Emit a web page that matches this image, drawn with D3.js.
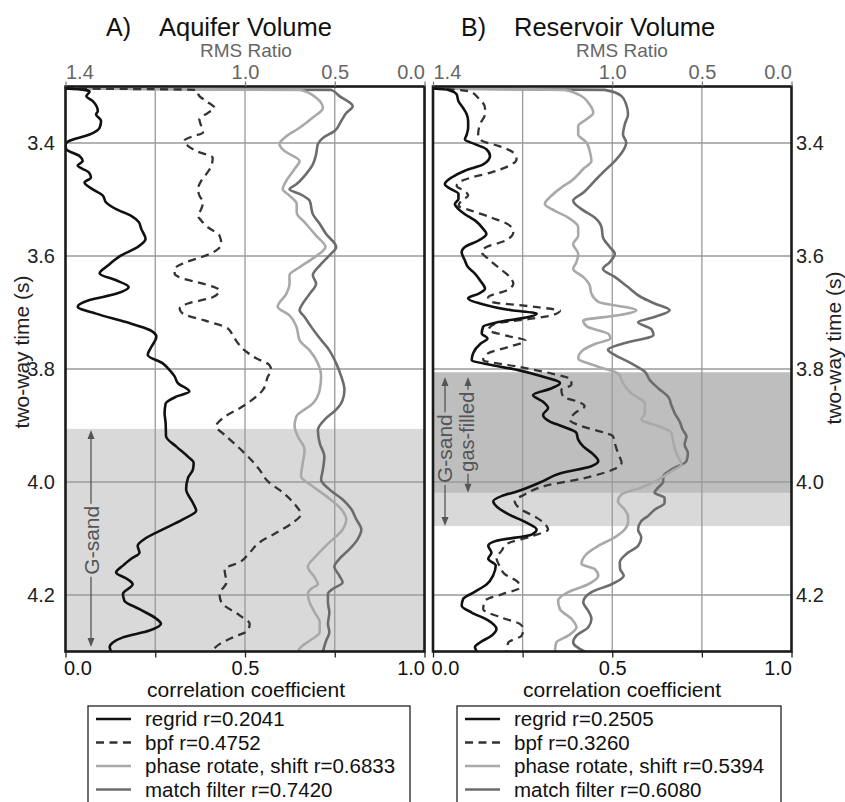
<!DOCTYPE html>
<html lang="en">
<head>
<meta charset="utf-8">
<title>Aquifer / Reservoir Volume</title>
<script src="https://d3js.org/d3.v7.min.js"></script>
<style>
  body { margin: 0; background: #fff; }
</style>
</head>
<body>
<svg id="chart" width="845" height="802"></svg>
<script>
// [two-way time (s), correlation coefficient]
var regridA = [[3.3035,0],[3.306,0.053],[3.309,0.067],[3.317,0.058],[3.326,0.076],[3.344,0.090],[3.349,0.085],[3.361,0.099],[3.373,0.095],[3.385,0.067],[3.396,0.011],[3.402,0.0],[3.411,0.002],[3.423,0.039],[3.432,0.048],[3.440,0.034],[3.452,0.065],[3.461,0.071],[3.470,0.053],[3.482,0.076],[3.493,0.104],[3.505,0.113],[3.517,0.141],[3.529,0.183],[3.540,0.204],[3.552,0.211],[3.570,0.223],[3.584,0.201],[3.599,0.155],[3.617,0.118],[3.631,0.095],[3.643,0.141],[3.655,0.176],[3.667,0.141],[3.678,0.067],[3.690,0.034],[3.702,0.085],[3.717,0.169],[3.731,0.235],[3.743,0.253],[3.761,0.239],[3.775,0.229],[3.790,0.271],[3.802,0.290],[3.813,0.304],[3.825,0.313],[3.840,0.345],[3.849,0.308],[3.861,0.279],[3.878,0.276],[3.896,0.279],[3.919,0.280],[3.937,0.308],[3.955,0.341],[3.966,0.357],[3.978,0.355],[3.993,0.341],[4.013,0.336],[4.037,0.355],[4.051,0.364],[4.066,0.327],[4.084,0.271],[4.101,0.220],[4.113,0.201],[4.125,0.206],[4.136,0.183],[4.148,0.160],[4.160,0.141],[4.172,0.173],[4.181,0.187],[4.198,0.160],[4.210,0.164],[4.225,0.206],[4.242,0.253],[4.251,0.266],[4.263,0.234],[4.275,0.160],[4.284,0.132],[4.292,0.123],[4.300,0.127]];
var bpfA = [[3.3035,0],[3.306,0.364],[3.317,0.373],[3.326,0.392],[3.338,0.415],[3.347,0.396],[3.358,0.373],[3.370,0.378],[3.382,0.383],[3.388,0.355],[3.396,0.331],[3.405,0.341],[3.414,0.364],[3.426,0.410],[3.441,0.406],[3.455,0.392],[3.467,0.378],[3.482,0.369],[3.493,0.373],[3.505,0.383],[3.517,0.378],[3.529,0.369],[3.537,0.378],[3.549,0.396],[3.564,0.429],[3.579,0.434],[3.590,0.420],[3.599,0.392],[3.611,0.336],[3.623,0.304],[3.631,0.304],[3.640,0.327],[3.649,0.383],[3.661,0.429],[3.673,0.410],[3.684,0.341],[3.693,0.318],[3.702,0.327],[3.714,0.387],[3.728,0.452],[3.743,0.468],[3.767,0.499],[3.781,0.531],[3.793,0.568],[3.802,0.573],[3.813,0.564],[3.837,0.550],[3.849,0.531],[3.866,0.494],[3.887,0.438],[3.901,0.420],[3.919,0.448],[3.943,0.489],[3.964,0.522],[3.978,0.540],[3.999,0.564],[4.019,0.606],[4.043,0.643],[4.057,0.656],[4.072,0.633],[4.090,0.587],[4.107,0.540],[4.125,0.513],[4.142,0.485],[4.154,0.443],[4.178,0.448],[4.198,0.429],[4.213,0.434],[4.236,0.485],[4.251,0.513],[4.263,0.508],[4.275,0.466],[4.287,0.429],[4.300,0.406]];
var phaseA = [[3.3035,0],[3.306,0.656],[3.320,0.698],[3.338,0.717],[3.355,0.689],[3.373,0.652],[3.388,0.615],[3.402,0.596],[3.414,0.610],[3.432,0.652],[3.446,0.638],[3.467,0.615],[3.482,0.605],[3.493,0.624],[3.508,0.644],[3.523,0.644],[3.543,0.670],[3.564,0.698],[3.584,0.724],[3.602,0.694],[3.620,0.652],[3.634,0.624],[3.649,0.624],[3.667,0.615],[3.690,0.591],[3.705,0.624],[3.725,0.643],[3.749,0.652],[3.767,0.680],[3.790,0.703],[3.813,0.712],[3.837,0.708],[3.861,0.689],[3.884,0.643],[3.901,0.638],[3.919,0.647],[3.943,0.666],[3.966,0.661],[3.990,0.656],[4.008,0.689],[4.025,0.726],[4.048,0.768],[4.066,0.782],[4.084,0.772],[4.107,0.735],[4.131,0.698],[4.150,0.675],[4.169,0.694],[4.181,0.703],[4.189,0.684],[4.198,0.675],[4.213,0.680],[4.231,0.694],[4.248,0.708],[4.266,0.708],[4.281,0.680],[4.292,0.656],[4.300,0.647]];
var matchA = [[3.3035,0],[3.306,0.740],[3.317,0.763],[3.335,0.800],[3.347,0.782],[3.361,0.768],[3.379,0.749],[3.391,0.717],[3.402,0.703],[3.420,0.698],[3.438,0.689],[3.455,0.670],[3.473,0.643],[3.482,0.624],[3.490,0.652],[3.502,0.680],[3.526,0.689],[3.543,0.708],[3.561,0.726],[3.584,0.754],[3.599,0.735],[3.617,0.708],[3.634,0.689],[3.649,0.698],[3.667,0.680],[3.684,0.661],[3.696,0.652],[3.708,0.666],[3.725,0.684],[3.743,0.705],[3.767,0.735],[3.790,0.754],[3.813,0.768],[3.837,0.777],[3.855,0.772],[3.872,0.754],[3.887,0.726],[3.908,0.703],[3.931,0.708],[3.955,0.721],[3.978,0.717],[3.996,0.712],[4.013,0.735],[4.031,0.772],[4.048,0.796],[4.066,0.810],[4.084,0.824],[4.101,0.814],[4.119,0.791],[4.136,0.763],[4.150,0.749],[4.166,0.763],[4.178,0.772],[4.189,0.745],[4.198,0.731],[4.213,0.731],[4.231,0.735],[4.251,0.731],[4.266,0.735],[4.281,0.726],[4.300,0.717]];

var regridB = [[3.3035,0],[3.306,0.043],[3.314,0.066],[3.326,0.071],[3.338,0.084],[3.349,0.094],[3.361,0.098],[3.373,0.098],[3.385,0.094],[3.394,0.089],[3.402,0.117],[3.411,0.149],[3.423,0.159],[3.438,0.140],[3.449,0.089],[3.461,0.052],[3.473,0.033],[3.479,0.043],[3.490,0.071],[3.499,0.071],[3.508,0.061],[3.517,0.071],[3.526,0.089],[3.537,0.117],[3.552,0.140],[3.561,0.149],[3.573,0.126],[3.584,0.089],[3.593,0.080],[3.608,0.089],[3.620,0.098],[3.631,0.117],[3.643,0.131],[3.658,0.145],[3.667,0.126],[3.675,0.098],[3.684,0.131],[3.696,0.219],[3.702,0.289],[3.708,0.266],[3.717,0.182],[3.725,0.140],[3.737,0.136],[3.746,0.152],[3.755,0.133],[3.772,0.112],[3.784,0.108],[3.793,0.163],[3.802,0.238],[3.813,0.303],[3.825,0.354],[3.834,0.331],[3.846,0.279],[3.858,0.307],[3.869,0.321],[3.881,0.307],[3.893,0.326],[3.901,0.358],[3.913,0.400],[3.925,0.405],[3.937,0.419],[3.951,0.447],[3.963,0.461],[3.972,0.442],[3.984,0.358],[4.001,0.298],[4.016,0.238],[4.025,0.191],[4.034,0.168],[4.043,0.177],[4.057,0.210],[4.072,0.261],[4.084,0.289],[4.093,0.275],[4.104,0.177],[4.113,0.154],[4.125,0.163],[4.136,0.154],[4.148,0.175],[4.165,0.168],[4.181,0.150],[4.195,0.115],[4.207,0.084],[4.219,0.080],[4.231,0.108],[4.245,0.154],[4.260,0.177],[4.272,0.163],[4.284,0.131],[4.292,0.117],[4.300,0.122]];
var bpfB = [[3.3035,0],[3.306,0.071],[3.309,0.103],[3.320,0.126],[3.338,0.145],[3.349,0.145],[3.367,0.131],[3.385,0.126],[3.396,0.136],[3.405,0.182],[3.417,0.224],[3.429,0.233],[3.441,0.210],[3.452,0.163],[3.461,0.108],[3.470,0.071],[3.476,0.066],[3.485,0.089],[3.493,0.098],[3.502,0.080],[3.511,0.071],[3.520,0.108],[3.532,0.163],[3.546,0.214],[3.558,0.224],[3.573,0.201],[3.584,0.149],[3.593,0.136],[3.605,0.154],[3.620,0.182],[3.637,0.214],[3.649,0.224],[3.661,0.205],[3.673,0.154],[3.681,0.163],[3.690,0.284],[3.697,0.354],[3.705,0.331],[3.711,0.275],[3.720,0.173],[3.731,0.155],[3.741,0.205],[3.750,0.258],[3.761,0.210],[3.772,0.154],[3.784,0.140],[3.796,0.238],[3.808,0.331],[3.819,0.386],[3.828,0.386],[3.837,0.358],[3.849,0.363],[3.858,0.405],[3.866,0.423],[3.878,0.396],[3.890,0.382],[3.901,0.414],[3.913,0.479],[3.919,0.502],[3.931,0.507],[3.949,0.516],[3.966,0.526],[3.978,0.502],[3.993,0.423],[4.007,0.312],[4.022,0.256],[4.034,0.228],[4.049,0.247],[4.063,0.289],[4.078,0.317],[4.084,0.321],[4.096,0.275],[4.110,0.205],[4.122,0.191],[4.134,0.177],[4.148,0.185],[4.163,0.200],[4.178,0.238],[4.187,0.242],[4.198,0.195],[4.210,0.145],[4.225,0.140],[4.240,0.191],[4.251,0.242],[4.260,0.252],[4.272,0.247],[4.284,0.210],[4.300,0.205]];
var phaseB = [[3.3035,0],[3.306,0.368],[3.314,0.405],[3.332,0.437],[3.347,0.447],[3.358,0.428],[3.370,0.405],[3.385,0.405],[3.399,0.428],[3.414,0.437],[3.432,0.442],[3.446,0.419],[3.467,0.386],[3.479,0.358],[3.493,0.331],[3.508,0.312],[3.520,0.340],[3.532,0.377],[3.549,0.405],[3.564,0.405],[3.579,0.391],[3.596,0.405],[3.611,0.400],[3.623,0.391],[3.637,0.419],[3.652,0.437],[3.667,0.442],[3.681,0.461],[3.696,0.567],[3.705,0.516],[3.714,0.419],[3.725,0.430],[3.738,0.490],[3.746,0.495],[3.755,0.455],[3.767,0.418],[3.781,0.405],[3.796,0.461],[3.808,0.516],[3.825,0.530],[3.843,0.553],[3.861,0.591],[3.878,0.591],[3.890,0.581],[3.901,0.628],[3.913,0.665],[3.925,0.669],[3.940,0.674],[3.955,0.683],[3.969,0.693],[3.981,0.665],[3.996,0.628],[4.010,0.581],[4.022,0.526],[4.034,0.516],[4.049,0.535],[4.060,0.544],[4.072,0.544],[4.084,0.535],[4.098,0.507],[4.113,0.461],[4.131,0.423],[4.145,0.414],[4.154,0.451],[4.166,0.461],[4.181,0.433],[4.195,0.377],[4.210,0.349],[4.225,0.354],[4.242,0.386],[4.257,0.400],[4.272,0.377],[4.284,0.344],[4.300,0.340]];
var matchB = [[3.3035,0],[3.306,0.479],[3.317,0.526],[3.332,0.539],[3.349,0.544],[3.367,0.535],[3.385,0.530],[3.399,0.539],[3.414,0.530],[3.432,0.507],[3.449,0.479],[3.467,0.451],[3.488,0.419],[3.502,0.391],[3.517,0.414],[3.532,0.451],[3.549,0.470],[3.567,0.474],[3.584,0.493],[3.596,0.507],[3.611,0.493],[3.623,0.474],[3.637,0.507],[3.655,0.544],[3.673,0.581],[3.684,0.618],[3.696,0.660],[3.708,0.618],[3.717,0.572],[3.730,0.610],[3.740,0.615],[3.755,0.530],[3.766,0.488],[3.775,0.507],[3.790,0.553],[3.805,0.591],[3.819,0.604],[3.834,0.628],[3.849,0.656],[3.864,0.665],[3.878,0.674],[3.893,0.688],[3.908,0.697],[3.919,0.707],[3.934,0.702],[3.949,0.711],[3.963,0.707],[3.978,0.665],[3.990,0.642],[3.999,0.642],[4.010,0.628],[4.019,0.618],[4.028,0.646],[4.037,0.646],[4.049,0.618],[4.060,0.600],[4.069,0.581],[4.084,0.572],[4.098,0.581],[4.113,0.572],[4.125,0.544],[4.142,0.521],[4.154,0.522],[4.166,0.532],[4.181,0.498],[4.195,0.442],[4.213,0.419],[4.228,0.433],[4.242,0.442],[4.257,0.433],[4.272,0.400],[4.284,0.391],[4.300,0.423]];

var timeTicks = [3.4, 3.6, 3.8, 4.0, 4.2];
var corrTicks = [0, 0.25, 0.5, 0.75, 1.0];
var rmsTicks = [1.4, 1.0, 0.5, 0.0];
var legendA = ["regrid r=0.2041", "bpf r=0.4752", "phase rotate, shift r=0.6833", "match filter r=0.7420"];
var legendB = ["regrid r=0.2505", "bpf r=0.3260", "phase rotate, shift r=0.5394", "match filter r=0.6080"];
// shaded intervals (s)
var gSandA = [3.906, 4.30];
var gSandB = [3.806, 4.078];
var gasB = [3.806, 4.019];

var FONT = '"Liberation Sans", Arial, Helvetica, sans-serif';
var svg = d3.select("#chart").attr("font-family", FONT);
svg.append("rect").attr("width", 845).attr("height", 802).attr("fill", "#fff");

var y = d3.scaleLinear().domain([3.3, 4.3]).range([86.5, 651.5]);

// drawing order: regrid ends on top
var styles = {
  regrid: {color: "#111", width: 2.6, dash: null},
  bpf:    {color: "#333", width: 2.3, dash: "8,5.5"},
  phase:  {color: "#a9a9a9", width: 2.6, dash: null},
  match:  {color: "#6c6c6c", width: 2.6, dash: null}
};
var drawOrder = ["match", "phase", "bpf", "regrid"];
var legendOrder = ["regrid", "bpf", "phase", "match"];

function annot(g, xp, span, label, tMid, fs, textX) {
  var t = g.append("text")
    .attr("transform", "translate(" + textX + "," + y(tMid) + ") rotate(-90)")
    .attr("text-anchor", "middle").attr("font-size", fs).attr("fill", "#555")
    .text(label);
  var half = t.node().getComputedTextLength() / 2 + 2;
  var yTop = y(span[0]), yBot = y(span[1]), ym = y(tMid);
  g.append("line").attr("x1", xp).attr("x2", xp).attr("y1", yTop + 6).attr("y2", ym - half)
    .attr("stroke", "#555").attr("stroke-width", 1.3);
  g.append("line").attr("x1", xp).attr("x2", xp).attr("y1", ym + half).attr("y2", yBot - 6)
    .attr("stroke", "#555").attr("stroke-width", 1.3);
  g.append("path").attr("d", "M" + xp + "," + yTop + "l-3.5,9l7,0z").attr("fill", "#555");
  g.append("path").attr("d", "M" + xp + "," + yBot + "l-3.5,-9l7,0z").attr("fill", "#555");
}

function panel(p) {
  var x = d3.scaleLinear().domain([0, 1]).range([p.x0, p.x1]);
  var rms = d3.scaleLinear().domain([1.4, 1.0, 0.0]).range([p.x0, x(0.5), p.x1]);
  var g = svg.append("g");

  svg.append("clipPath").attr("id", "clip" + p.id).append("rect")
    .attr("x", p.x0).attr("y", y(3.3)).attr("width", p.x1 - p.x0).attr("height", y(4.3) - y(3.3));

  p.shades.forEach(function (s) {
    g.append("rect").attr("x", p.x0).attr("width", p.x1 - p.x0)
      .attr("y", y(s.span[0])).attr("height", y(s.span[1]) - y(s.span[0]))
      .attr("fill", s.fill);
  });

  g.selectAll(".vgrid").data([0.25, 0.5, 0.75]).enter().append("line")
    .attr("x1", function (d) { return x(d); }).attr("x2", function (d) { return x(d); })
    .attr("y1", y(3.3)).attr("y2", y(4.3))
    .attr("stroke", "#9a9a9a").attr("stroke-width", 1.3);
  g.selectAll(".hgrid").data(timeTicks).enter().append("line")
    .attr("x1", p.x0).attr("x2", p.x1)
    .attr("y1", function (d) { return y(d); }).attr("y2", function (d) { return y(d); })
    .attr("stroke", "#9a9a9a").attr("stroke-width", 1.3);

  if (p.annot) p.annot(g);

  var line = d3.line()
    .x(function (d) { return x(d[1]); })
    .y(function (d) { return y(d[0]); })
    .curve(d3.curveMonotoneY);
  var cg = g.append("g").attr("clip-path", "url(#clip" + p.id + ")");
  drawOrder.forEach(function (k) {
    var s = styles[k];
    cg.append("path").datum(p.series[k]).attr("d", line)
      .attr("fill", "none").attr("stroke", s.color).attr("stroke-width", s.width)
      .attr("stroke-dasharray", s.dash).attr("stroke-linejoin", "round");
  });

  g.append("rect").attr("x", p.x0).attr("y", y(3.3))
    .attr("width", p.x1 - p.x0).attr("height", y(4.3) - y(3.3))
    .attr("fill", "none").attr("stroke", "#1a1a1a").attr("stroke-width", 2.6);

  // bottom axis: correlation coefficient
  var bax = g.append("g").attr("transform", "translate(0," + y(4.3) + ")")
    .call(d3.axisBottom(x).tickValues(corrTicks).tickSize(6).tickPadding(3.5)
      .tickFormat(function (d) { return (d === 0.25 || d === 0.75) ? "" : d3.format(".1f")(d); }));
  bax.attr("font-family", FONT).attr("font-size", 20);
  bax.select(".domain").remove();
  bax.selectAll("line").attr("stroke", "#222").attr("stroke-width", 1.3);
  bax.selectAll("text").attr("fill", "#111")
    .attr("text-anchor", function (d, i) { return i === 0 ? "start" : (i === corrTicks.length - 1 ? "end" : "middle"); })
    .attr("dx", function (d, i) { return i === 0 ? -2 : 0; });

  // top axis: RMS ratio
  var tax = g.append("g").attr("transform", "translate(0," + y(3.3) + ")")
    .call(d3.axisTop(rms).tickValues(rmsTicks).tickSize(5).tickPadding(3).tickFormat(d3.format(".1f")));
  tax.attr("font-family", FONT).attr("font-size", 20);
  tax.select(".domain").remove();
  tax.selectAll("line").attr("stroke", "#777").attr("stroke-width", 1.2);
  tax.selectAll("text").attr("fill", "#666")
    .attr("text-anchor", function (d, i) { return i === 0 ? "start" : (i === rmsTicks.length - 1 ? "end" : "middle"); });

  // time axis
  var yax = g.append("g")
    .attr("transform", "translate(" + (p.side === "left" ? p.x0 : p.x1) + ",0)")
    .call((p.side === "left" ? d3.axisLeft(y) : d3.axisRight(y))
      .tickValues(timeTicks).tickSize(0).tickPadding(p.side === "left" ? 10.5 : 4.5)
      .tickFormat(d3.format(".1f")));
  yax.attr("font-family", FONT).attr("font-size", 20);
  yax.select(".domain").remove();
  yax.selectAll("text").attr("fill", "#222");

  svg.append("text").attr("transform", "translate(" + p.ytitleX + "," + p.ytitleY + ") rotate(-90)")
    .attr("text-anchor", "middle").attr("font-size", 21).attr("fill", "#222")
    .text("two-way time (s)");

  svg.append("text").attr("x", p.labelX).attr("y", 57).attr("text-anchor", "middle")
    .attr("font-size", 19).attr("fill", "#666").text("RMS Ratio");
  svg.append("text").attr("x", p.labelX).attr("y", 697).attr("text-anchor", "middle")
    .attr("font-size", 21).attr("fill", "#111").text("correlation coefficient");

  svg.append("text").attr("x", p.letterX).attr("y", 36).attr("font-size", 25)
    .attr("fill", "#111").text(p.letter);
  svg.append("text").attr("x", p.titleX).attr("y", 36).attr("font-size", 25.5)
    .attr("fill", "#111").text(p.title);

  // legend
  var lg = svg.append("g");
  lg.append("rect").attr("x", p.legX).attr("y", 706).attr("width", p.legW).attr("height", 110)
    .attr("fill", "#fff").attr("stroke", "#222").attr("stroke-width", 1.3);
  legendOrder.forEach(function (k, i) {
    var s = styles[k], yy = 719 + i * 23.5;
    lg.append("line").attr("x1", p.legX + 8).attr("x2", p.legX + 43).attr("y1", yy).attr("y2", yy)
      .attr("stroke", s.color).attr("stroke-width", s.width).attr("stroke-dasharray", s.dash);
    lg.append("text").attr("x", p.legX + 57).attr("y", yy).attr("dy", "0.35em")
      .attr("font-size", 20.5).attr("fill", "#111").text(p.legend[i]);
  });

  return x;
}

panel({
  id: "A", x0: 65.5, x1: 424.5, side: "left",
  series: {regrid: regridA, bpf: bpfA, phase: phaseA, match: matchA},
  shades: [{span: gSandA, fill: "#d9d9d9"}],
  annot: function (g) { annot(g, 91, [3.908, 4.292], "G-sand", 4.103, 21, 98.5); },
  ytitleX: 29, ytitleY: 352, labelX: 246, letter: "A)", letterX: 106,
  title: "Aquifer Volume", titleX: 159, legX: 88, legW: 322, legend: legendA
});
panel({
  id: "B", x0: 433, x1: 791.5, side: "right",
  series: {regrid: regridB, bpf: bpfB, phase: phaseB, match: matchB},
  shades: [{span: gSandB, fill: "#d9d9d9"}, {span: gasB, fill: "#bebebe"}],
  annot: function (g) {
    annot(g, 445, [3.814, 4.078], "G-sand", 3.941, 21, 452);
    annot(g, 468, [3.814, 4.019], "gas-filled", 3.911, 20, 474);
  },
  ytitleX: 841, ytitleY: 348, labelX: 622, letter: "B)", letterX: 461,
  title: "Reservoir Volume", titleX: 514, legX: 457, legW: 324, legend: legendB
});
</script>
</body>
</html>
